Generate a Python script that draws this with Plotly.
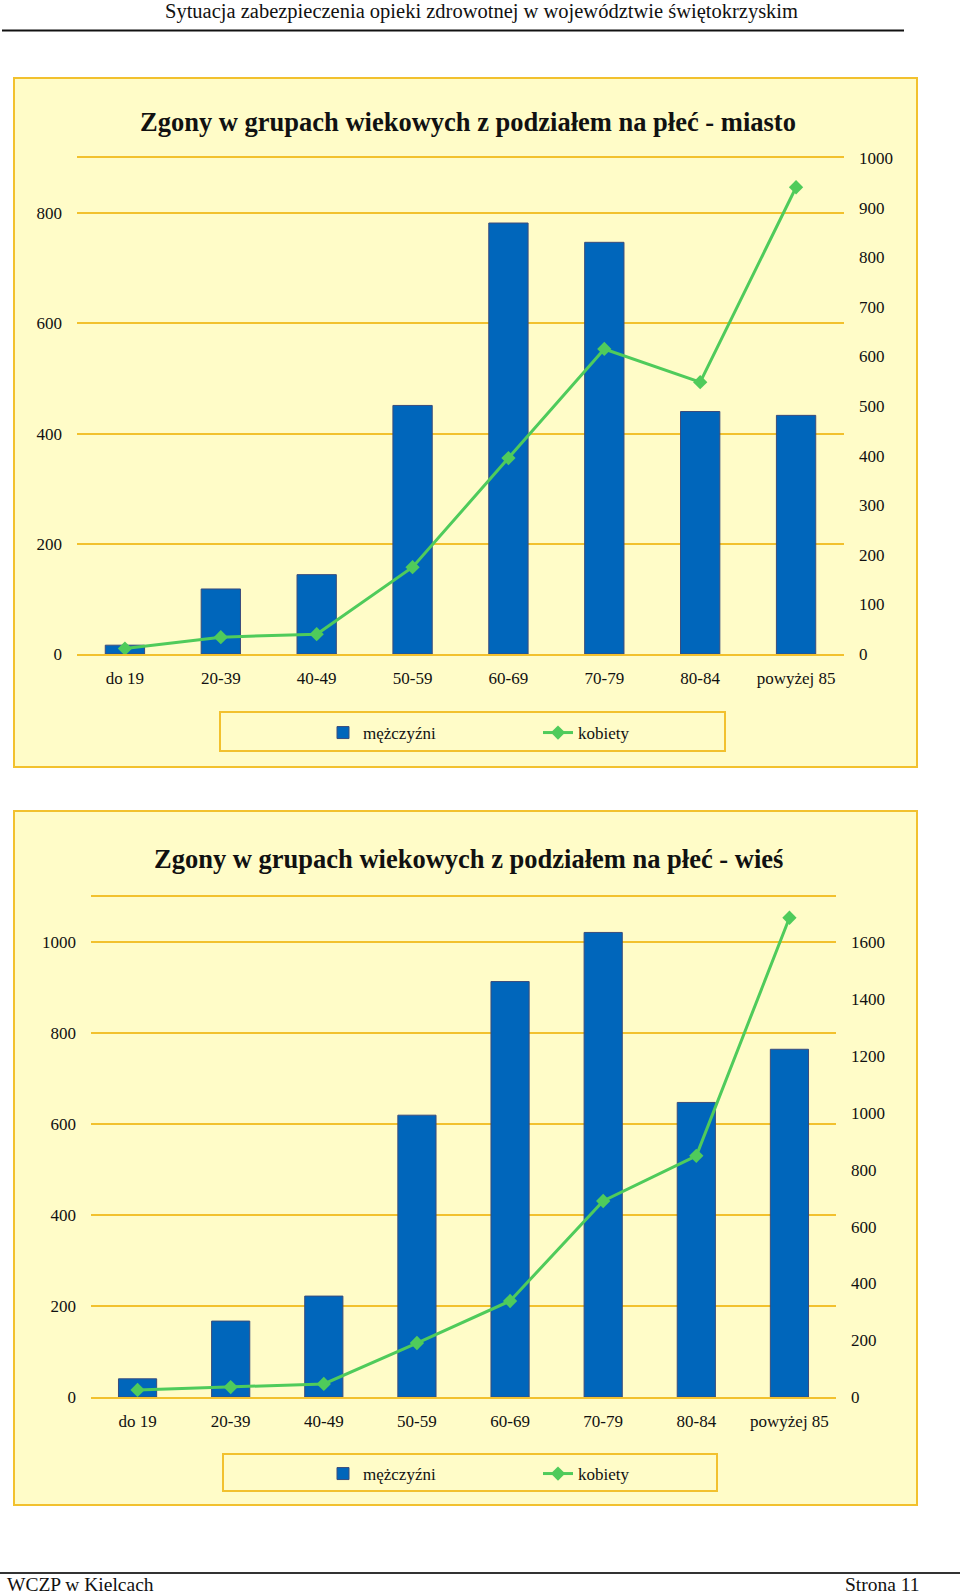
import plotly.graph_objects as go

# ---------------- data ----------------
categories = ["do 19", "20-39", "40-49", "50-59", "60-69", "70-79", "80-84", "powyżej 85"]

miasto_mezczyzni = [16, 118, 144, 451, 782, 747, 440, 433]
miasto_kobiety = [11, 34, 40, 175, 395, 615, 548, 941]

wies_mezczyzni = [40, 167, 222, 620, 914, 1022, 648, 765]
wies_kobiety = [25, 35, 46, 190, 338, 690, 849, 1687]

series_names = ["mężczyźni", "kobiety"]
titles = ["Zgony w grupach wiekowych z podziałem na płeć - miasto",
          "Zgony w grupach wiekowych z podziałem na płeć - wieś"]
header_text = "Sytuacja zabezpieczenia opieki zdrowotnej w województwie świętokrzyskim"
footer_left = "WCZP w Kielcach"
footer_right = "Strona 11"

# ---------------- style ----------------
W, H = 960, 1596
FONT = "Liberation Serif, Times New Roman, serif"
BG = "#FFFCC8"
GOLD = "#F2C12E"
BLUE = "#0066BB"
GREEN = "#4FCB5B"
TXT = "#111111"


def fx(x):
    return x / W


def fy(y):
    return 1 - y / H


fig = go.Figure()

# chart 1 (miasto)
fig.add_trace(go.Bar(x=categories, y=miasto_mezczyzni, name=series_names[0],
                     marker=dict(color=BLUE, line=dict(color="#3A4C7C", width=1)),
                     xaxis="x", yaxis="y", legend="legend"))
fig.add_trace(go.Scatter(x=categories, y=miasto_kobiety, name=series_names[1],
                         mode="lines+markers",
                         line=dict(color=GREEN, width=3),
                         marker=dict(symbol="diamond", size=11, color=GREEN),
                         xaxis="x", yaxis="y2", legend="legend"))
# chart 2 (wieś)
fig.add_trace(go.Bar(x=categories, y=wies_mezczyzni, name=series_names[0],
                     marker=dict(color=BLUE, line=dict(color="#3A4C7C", width=1)),
                     xaxis="x2", yaxis="y3", legend="legend2"))
fig.add_trace(go.Scatter(x=categories, y=wies_kobiety, name=series_names[1],
                         mode="lines+markers",
                         line=dict(color=GREEN, width=3),
                         marker=dict(symbol="diamond", size=11, color=GREEN),
                         xaxis="x2", yaxis="y4", legend="legend2"))

tickfont = dict(family=FONT, size=17, color=TXT)

xcommon = dict(showline=True, mirror=True, linecolor=GOLD, linewidth=2,
               ticks="", showgrid=False, tickfont=tickfont,
               ticklabelstandoff=8, fixedrange=True)
ycommon = dict(ticks="", tickfont=tickfont, zeroline=False, fixedrange=True,
               ticklabelstandoff=14)

shapes = []
# outer chart boxes
for (x0, y0, x1, y1) in [(14, 78, 917, 767), (14, 811, 917, 1505)]:
    shapes.append(dict(type="rect", xref="paper", yref="paper",
                       x0=fx(x0), x1=fx(x1), y0=fy(y1), y1=fy(y0),
                       fillcolor=BG, line=dict(color=GOLD, width=2), layer="below"))
# legend boxes
for (x0, y0, x1, y1) in [(220, 712, 725, 751), (223, 1454, 717, 1491)]:
    shapes.append(dict(type="rect", xref="paper", yref="paper",
                       x0=fx(x0), x1=fx(x1), y0=fy(y1), y1=fy(y0),
                       fillcolor="rgba(0,0,0,0)", line=dict(color=GOLD, width=2), layer="below"))
# header / footer rules
shapes.append(dict(type="line", xref="paper", yref="paper",
                   x0=fx(2), x1=fx(904), y0=fy(30.5), y1=fy(30.5),
                   line=dict(color="#111111", width=2)))
shapes.append(dict(type="line", xref="paper", yref="paper",
                   x0=fx(0), x1=fx(960), y0=fy(1573), y1=fy(1573),
                   line=dict(color="#333333", width=2)))

annotations = [
    dict(text=header_text, x=fx(481), y=fy(11.5), xref="paper", yref="paper",
         xanchor="center", yanchor="middle", showarrow=False,
         font=dict(family=FONT, size=20.5, color=TXT)),
    dict(text=titles[0], x=fx(468), y=fy(122), xref="paper", yref="paper",
         xanchor="center", yanchor="middle", showarrow=False,
         font=dict(family=FONT, size=26.5, color=TXT, weight="bold")),
    dict(text=titles[1], x=fx(468), y=fy(859), xref="paper", yref="paper",
         xanchor="center", yanchor="middle", showarrow=False,
         font=dict(family=FONT, size=26.5, color=TXT, weight="bold")),
    dict(text=footer_left, x=fx(6), y=fy(1595.5), xref="paper", yref="paper",
         xanchor="left", yanchor="bottom", showarrow=False, borderpad=0,
         font=dict(family=FONT, size=19.5, color=TXT)),
    dict(text=footer_right, x=fx(921), y=fy(1595.5), xref="paper", yref="paper",
         xanchor="right", yanchor="bottom", showarrow=False, borderpad=0,
         font=dict(family=FONT, size=19.5, color=TXT)),
]

legend_common = dict(orientation="h", xanchor="left", yanchor="middle",
                     bgcolor="rgba(0,0,0,0)", borderwidth=0,
                     font=dict(family=FONT, size=17, color=TXT),
                     entrywidth=170, entrywidthmode="pixels",
                     traceorder="normal", itemclick=False, itemdoubleclick=False)

fig.update_layout(
    width=W, height=H,
    margin=dict(l=0, r=0, t=0, b=0, autoexpand=False),
    paper_bgcolor="white",
    plot_bgcolor="rgba(0,0,0,0)",
    bargap=0.59,
    showlegend=True,
    font=dict(family=FONT, color=TXT),
    xaxis=dict(domain=[fx(77), fx(844)], anchor="y", **xcommon),
    yaxis=dict(domain=[fy(654), fy(158)], anchor="x", range=[0, 900],
               tickvals=[0, 200, 400, 600, 800],
               showgrid=True, gridcolor=GOLD, gridwidth=2, **ycommon),
    yaxis2=dict(overlaying="y", side="right", anchor="x", range=[0, 1000],
                tickvals=list(range(0, 1001, 100)), showgrid=False, **ycommon),
    xaxis2=dict(domain=[fx(91), fx(836)], anchor="y3", **xcommon),
    yaxis3=dict(domain=[fy(1397), fy(897)], anchor="x2", range=[0, 1100],
                tickvals=[0, 200, 400, 600, 800, 1000],
                showgrid=True, gridcolor=GOLD, gridwidth=2, **ycommon),
    yaxis4=dict(overlaying="y3", side="right", anchor="x2", range=[0, 1760],
                tickvals=list(range(0, 1601, 200)), showgrid=False, **ycommon),
    legend=dict(x=fx(323), y=fy(733), **legend_common),
    legend2=dict(x=fx(323), y=fy(1474), **legend_common),
    shapes=shapes,
    annotations=annotations,
)

fig.write_html("out.html")
